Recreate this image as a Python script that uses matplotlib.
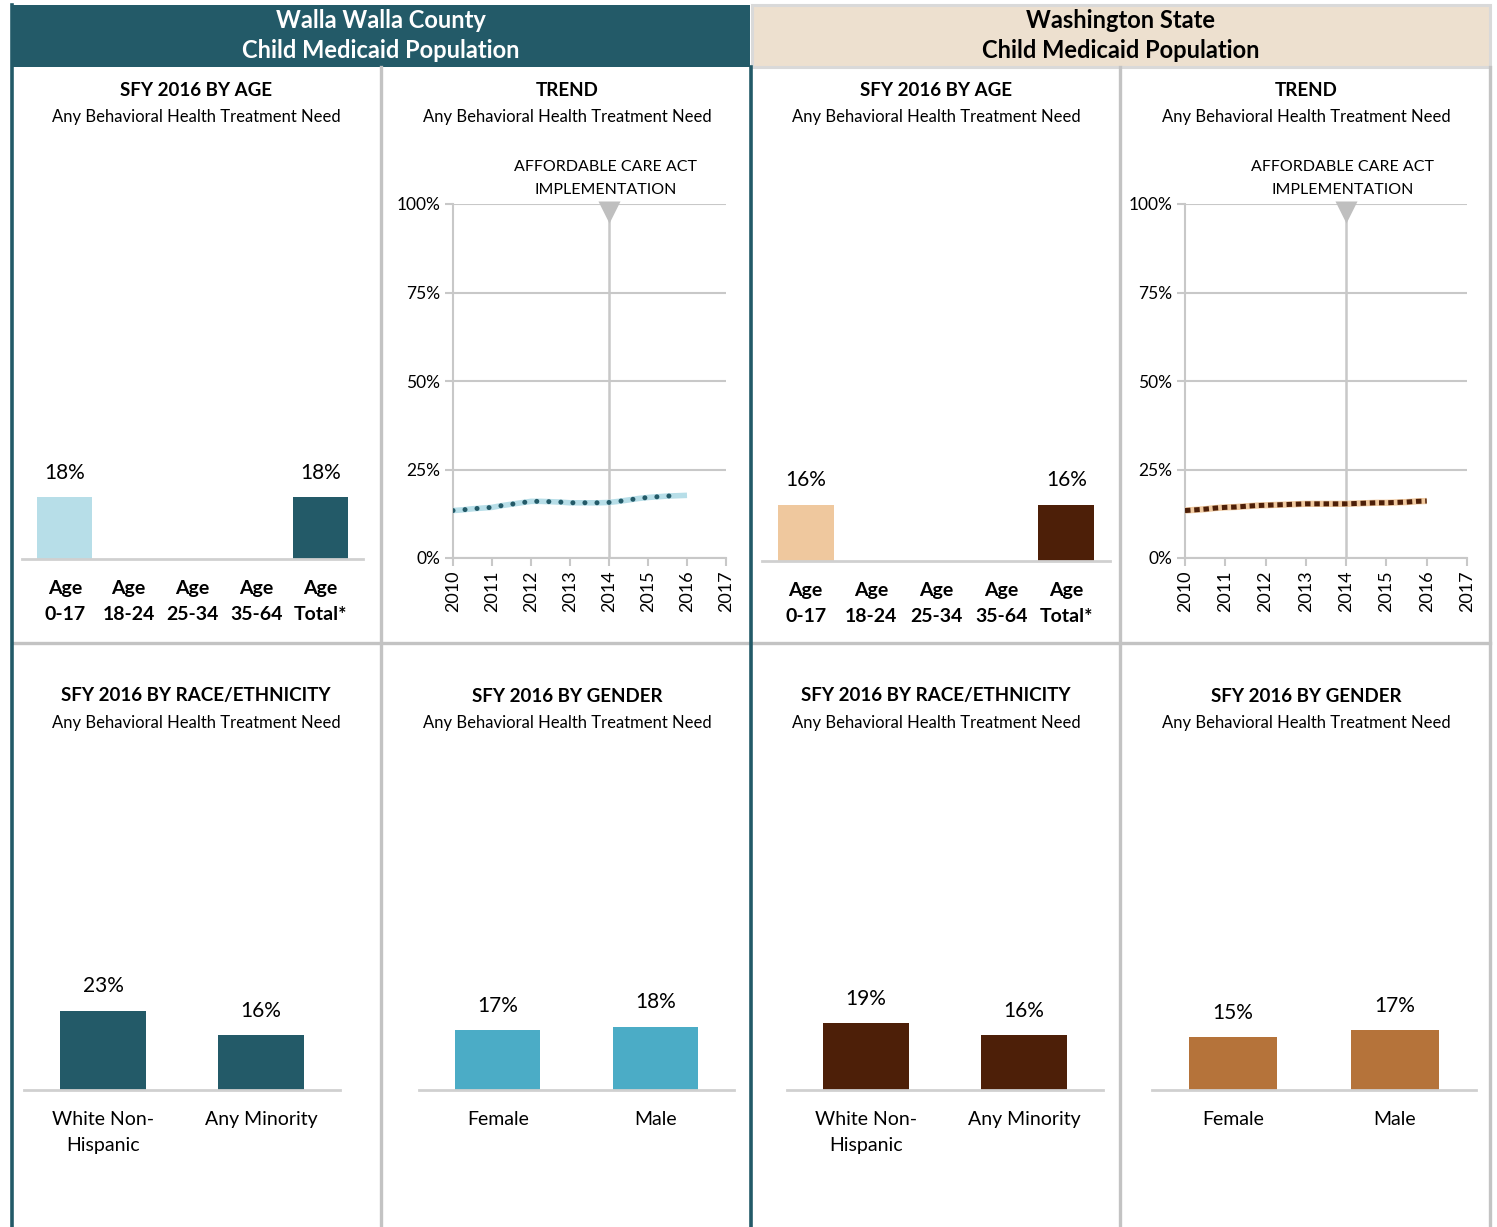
import matplotlib
matplotlib.use("Agg")
import matplotlib.pyplot as plt
from matplotlib.patches import Rectangle

plt.rcParams['font.family'] = ['Lato', 'DejaVu Sans']

# ---------------- data ----------------
age_labels = ["Age\n0-17", "Age\n18-24", "Age\n25-34", "Age\n35-64", "Age\nTotal*"]
county_age = [18.0, None, None, None, 18.0]
state_age = [16.4, None, None, None, 16.4]

race_labels = ["White Non-\nHispanic", "Any Minority"]
county_race = [23.0, 16.0]
state_race = [19.4, 16.0]

gender_labels = ["Female", "Male"]
county_gender = [17.3, 18.4]
state_gender = [15.4, 17.4]

trend_x = [2010.0, 2010.25, 2010.5, 2010.75, 2011.0, 2011.25, 2011.5, 2011.75,
           2012.0, 2012.25, 2012.5, 2012.75, 2013.0, 2013.25, 2013.5, 2013.75,
           2014.0, 2014.25, 2014.5, 2014.75, 2015.0, 2015.25, 2015.5, 2015.75, 2016.0]
county_trend = [13.4, 13.6, 13.9, 14.1, 14.3, 14.8, 15.2, 15.6,
                16.0, 16.0, 15.9, 15.8, 15.6, 15.6, 15.6, 15.6,
                15.7, 16.0, 16.4, 16.8, 17.1, 17.3, 17.5, 17.6, 17.7]
state_trend = [13.4, 13.6, 13.8, 14.1, 14.3, 14.4, 14.6, 14.8,
               14.9, 15.0, 15.1, 15.2, 15.3, 15.3, 15.3, 15.3,
               15.3, 15.4, 15.5, 15.6, 15.6, 15.7, 15.8, 16.0, 16.1]
year_ticks = [2010, 2011, 2012, 2013, 2014, 2015, 2016, 2017]
pct_ticks = [0, 25, 50, 75, 100]
aca_year = 2014

# ---------------- style ----------------
TEAL = "#235a68"
LIGHTBLUE = "#b7dee8"
MIDBLUE = "#4bacc6"
BROWN = "#4d1f08"
TAN = "#efc89e"
COPPER = "#b5733a"
BEIGE = "#ede0cf"
GRID = "#c8c8c8"
SEP = "#c3c3c3"

W, H = 1497, 1227
fig = plt.figure(figsize=(W / 100, H / 100), dpi=100)

# overlay in pixel coordinates for layout
ov = fig.add_axes([0, 0, 1, 1])
ov.set_xlim(0, W)
ov.set_ylim(H, 0)
ov.axis("off")

# headers
ov.add_patch(Rectangle((12, 5), 738, 62, facecolor=TEAL, edgecolor="none"))
ov.add_patch(Rectangle((752, 5), 738, 62, facecolor=BEIGE, edgecolor="#d9d9d9", lw=2.2))
ov.text(381, 20, "Walla Walla County", color="white",
        ha="center", va="center", fontsize=17, fontweight="bold")
ov.text(381, 51, "Child Medicaid Population", color="white",
        ha="center", va="center", fontsize=17, fontweight="bold")
ov.text(1121, 20, "Washington State", color="black",
        ha="center", va="center", fontsize=17, fontweight="bold")
ov.text(1121, 51, "Child Medicaid Population", color="black",
        ha="center", va="center", fontsize=17, fontweight="bold")

# separators
ov.plot([381, 381], [67, H], color=SEP, lw=2.4)
ov.plot([1120, 1120], [67, H], color=SEP, lw=2.4)
ov.plot([1490, 1490], [67, H], color=SEP, lw=2.4)
ov.plot([13, 1490], [643, 643], color=SEP, lw=2.4)
ov.plot([11.5, 11.5], [5, H], color=TEAL, lw=2.6)
ov.plot([751, 751], [67, H], color=TEAL, lw=2.6)

# panel titles
panel_centers = [196, 567, 936, 1306]
top_titles = ["SFY 2016 BY AGE", "TREND", "SFY 2016 BY AGE", "TREND"]
bot_titles = ["SFY 2016 BY RACE/ETHNICITY", "SFY 2016 BY GENDER",
              "SFY 2016 BY RACE/ETHNICITY", "SFY 2016 BY GENDER"]
sub = "Any Behavioral Health Treatment Need"
for cx, t in zip(panel_centers, top_titles):
    ov.text(cx, 90, t, ha="center", va="center", fontsize=13.5, fontweight="bold")
    ov.text(cx, 117, sub, ha="center", va="center", fontsize=12)
for cx, t in zip(panel_centers, bot_titles):
    ov.text(cx, 696, t, ha="center", va="center", fontsize=13.5, fontweight="bold")
    ov.text(cx, 723, sub, ha="center", va="center", fontsize=12)


def ax_at(x0, x1, ybot, ytop):
    return fig.add_axes([x0 / W, 1 - ybot / H, (x1 - x0) / W, (ybot - ytop) / H])


def bar_panel(x0, x1, ybot, labels, values, colors, width, xpad, bold_ticks):
    ax = ax_at(x0, x1, ybot, ybot - 344)
    xs = list(range(len(labels)))
    vals = [v if v is not None else 0 for v in values]
    ax.bar(xs, vals, width=width, color=colors, zorder=2)
    for x, v in zip(xs, values):
        if v is not None:
            ax.text(x, v + 4.2, f"{v:.0f}%", ha="center", va="bottom", fontsize=15)
    ax.set_ylim(0, 100)
    ax.set_xlim(-xpad, len(labels) - 1 + xpad)
    ax.set_xticks(xs)
    ax.set_xticklabels(labels, fontsize=14,
                       fontweight="bold" if bold_ticks else "normal", linespacing=1.65)
    ax.tick_params(axis="x", length=0, pad=15)
    ax.set_yticks([])
    for s in ["top", "left", "right"]:
        ax.spines[s].set_visible(False)
    ax.spines["bottom"].set_color("#d0d0d0")
    ax.spines["bottom"].set_linewidth(2)
    ax.patch.set_alpha(0)
    return ax


# age panels
bar_panel(22, 363, 559, age_labels, county_age,
          [LIGHTBLUE, TEAL, TEAL, TEAL, TEAL], 0.86, 0.67, True)
bar_panel(762, 1110, 561, age_labels, state_age,
          [TAN, BROWN, BROWN, BROWN, BROWN], 0.86, 0.67, True)

# race / gender panels
bar_panel(24, 340, 1090, race_labels, county_race, [TEAL, TEAL], 0.54, 0.5, False)
bar_panel(419, 734, 1090, gender_labels, county_gender, [MIDBLUE, MIDBLUE], 0.54, 0.5, False)
bar_panel(787, 1103, 1090, race_labels, state_race, [BROWN, BROWN], 0.54, 0.5, False)
bar_panel(1152, 1476, 1090, gender_labels, state_gender, [COPPER, COPPER], 0.54, 0.5, False)


def trend_panel(x0, x1, values, light, dark, dotstyle, capstyle, dlw, llw, trim):
    ax = ax_at(x0, x1, 558, 204)
    ax.set_xlim(year_ticks[0], year_ticks[-1])
    ax.set_ylim(0, 100)
    ax.set_yticks(pct_ticks)
    ax.set_yticklabels([f"{p}%" for p in pct_ticks], fontsize=12.5)
    ax.set_xticks(year_ticks)
    ax.set_xticklabels([str(y) for y in year_ticks], rotation=90, fontsize=13)
    ax.grid(axis="y", color=GRID, lw=1.5, zorder=0)
    ax.tick_params(axis="both", color=GRID, width=1.5, length=6, pad=3)
    for s in ["top", "right"]:
        ax.spines[s].set_visible(False)
    for s in ["left", "bottom"]:
        ax.spines[s].set_color(GRID)
        ax.spines[s].set_linewidth(1.5)
    ax.axvline(aca_year, color=GRID, lw=1.8, zorder=1)
    ax.plot([aca_year], [97.8], marker="v", markersize=16, color="#bfbfbf",
            markeredgecolor="none", zorder=3, clip_on=False)
    ax.text(aca_year - 0.08, 110.5, "AFFORDABLE CARE ACT", ha="center",
            va="center", fontsize=11.5)
    ax.text(aca_year - 0.08, 104.0, "IMPLEMENTATION", ha="center",
            va="center", fontsize=11.5)
    ax.plot(trend_x, values, color=light, lw=llw, solid_capstyle="butt", zorder=4)
    n = len(trend_x) - trim
    ax.plot(trend_x[:n], values[:n], color=dark, lw=dlw, linestyle=dotstyle,
            dash_capstyle=capstyle, zorder=5)
    ax.patch.set_alpha(0)
    return ax


trend_panel(453, 726, county_trend, LIGHTBLUE, TEAL, (0, (0.01, 2.4)), "round", 3.6, 4.0, 1)
trend_panel(1185, 1467, state_trend, TAN, BROWN, (0, (1.1, 0.75)), "butt", 3.6, 4.5, 0)

fig.savefig("out.png", dpi=100)
